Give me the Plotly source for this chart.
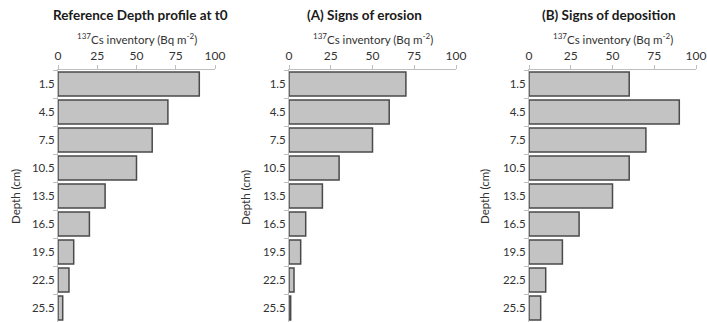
import plotly.graph_objects as go

depths = ["1.5", "4.5", "7.5", "10.5", "13.5", "16.5", "19.5", "22.5", "25.5"]
reference_t0 = [90, 70, 60, 50, 30, 20, 10, 7, 3]
erosion = [70, 60, 50, 30, 20, 10, 7, 3, 1]
deposition = [60, 90, 70, 60, 50, 30, 20, 10, 7]
panel_titles = ["Reference Depth profile at t0", "(A) Signs of erosion", "(B) Signs of deposition"]
x_ticks = [0, 25, 50, 75, 100]

W, H = 707, 322
TOP = 70  # y of plot top
PH = H - TOP
BAND = 28.0  # pixels per depth category
y_bottom = -0.5 + PH / BAND


def px(p):
    return p / W


def py(p):
    return (H - p) / PH


domains = [(58, 215), (289, 456), (529, 696)]
title_centers = [140, 364, 609]
depth_x = [15, 245, 484]

FONT = "Lato"
fig = go.Figure()
series = [reference_t0, erosion, deposition]
for i, vals in enumerate(series):
    sfx = "" if i == 0 else str(i + 1)
    fig.add_trace(go.Bar(
        x=vals, y=depths, orientation="h",
        xaxis="x" + sfx, yaxis="y" + sfx,
        marker=dict(color="#c3c3c3", line=dict(color="#4a4a4a", width=1.5)),
        showlegend=False, hoverinfo="skip",
    ))
    d0, d1 = domains[i]
    fig.layout["xaxis" + sfx] = dict(
        domain=[px(d0), px(d1)], range=[0, 100], side="top",
        tickvals=x_ticks, ticks="outside", ticklen=4, tickcolor="#bfbfbf",
        showline=True, linecolor="#bfbfbf", linewidth=1, showgrid=False,
        zeroline=False, anchor="y" + sfx, automargin=False,
        tickfont=dict(family=FONT, size=12, color="#333333"),
    )
    fig.layout["yaxis" + sfx] = dict(
        domain=[0, 1], range=[y_bottom, -0.5], type="category",
        categoryorder="array", categoryarray=depths,
        tickson="boundaries", ticks="outside", ticklen=4, tickcolor="#bfbfbf",
        showline=True, linecolor="#bfbfbf", linewidth=1, showgrid=False,
        anchor="x" + sfx, automargin=False,
        tickfont=dict(family=FONT, size=11.5, color="#333333"),
    )
    fig.add_annotation(text="<b>" + panel_titles[i] + "</b>", xref="paper", yref="paper",
                       x=px(title_centers[i]), y=py(15), showarrow=False,
                       xanchor="center", yanchor="middle",
                       font=dict(family=FONT, size=13.5, color="#1a1a1a"))
    fig.add_annotation(text="<sup>137</sup>Cs inventory (Bq m<sup>-2</sup>)", xref="paper", yref="paper",
                       x=px((d0 + d1) / 2), y=py(38), showarrow=False,
                       xanchor="center", yanchor="middle",
                       font=dict(family=FONT, size=11.5, color="#333333"))
    fig.add_annotation(text="Depth (cm)", xref="paper", yref="paper",
                       x=px(depth_x[i]), y=py(197), showarrow=False,
                       textangle=-90, xanchor="center", yanchor="middle",
                       font=dict(family=FONT, size=11.5, color="#333333"))

fig.update_layout(
    width=W, height=H, bargap=0.14,
    margin=dict(l=0, r=0, t=TOP, b=0, autoexpand=False),
    paper_bgcolor="white", plot_bgcolor="white",
    hovermode=False,
)
fig.write_html(
    "out.html",
    config={"displayModeBar": False, "staticPlot": True},
    post_script="document.body.style.margin='0px';document.body.style.overflow='hidden';",
)
